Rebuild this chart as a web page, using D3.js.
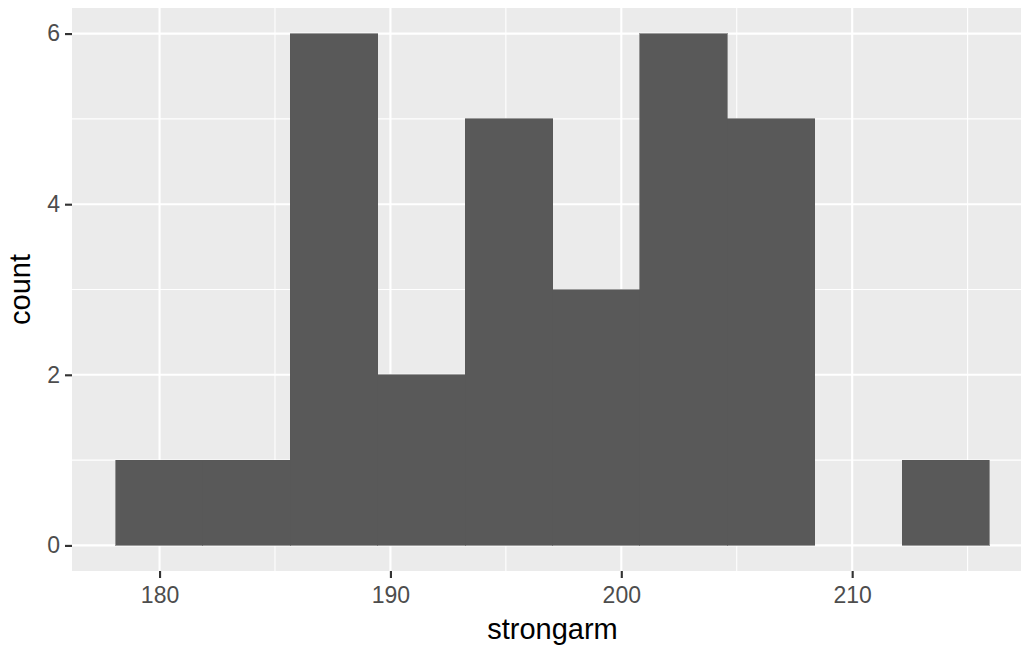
<!DOCTYPE html>
<html>
<head>
<meta charset="utf-8">
<script src="https://cdn.jsdelivr.net/npm/d3@7"></script>
<style>
  html, body { margin: 0; padding: 0; background: #fff; }
  svg { display: block; }
</style>
</head>
<body>
<svg id="chart" width="1021" height="649"></svg>
<script>
// ---- data ----
const binEdges = [178.10, 181.88, 185.67, 189.45, 193.24, 197.02, 200.80, 204.59, 208.37, 212.16, 215.94];
const counts   = [1, 1, 6, 2, 5, 3, 6, 5, 0, 1];
const xMajorTicks = [180, 190, 200, 210];
const xMinorTicks = [175, 185, 195, 205, 215];
const yMajorTicks = [0, 2, 4, 6];
const yMinorTicks = [1, 3, 5];
const xTitle = "strongarm";
const yTitle = "count";

// ---- layout ----
const svg = d3.select("#chart");
const panel = { left: 72, top: 8, right: 1033, bottom: 571 };

const xMin = d3.min(binEdges), xMax = d3.max(binEdges);
const xPad = (xMax - xMin) * 0.05;
const x = d3.scaleLinear().domain([xMin - xPad, xMax + xPad]).range([panel.left, panel.right]);
const yMax = d3.max(counts);
const yPad = yMax * 0.05;
const y = d3.scaleLinear().domain([-yPad, yMax + yPad]).range([panel.bottom, panel.top]);

const font = "'Liberation Sans', Arial, Helvetica, sans-serif";

// panel background
svg.append("rect")
  .attr("x", panel.left).attr("y", panel.top)
  .attr("width", panel.right - panel.left).attr("height", panel.bottom - panel.top)
  .attr("fill", "#EBEBEB");

const grid = svg.append("g");
// minor grid
grid.selectAll(".xminor").data(xMinorTicks.filter(d => x(d) >= panel.left && x(d) <= panel.right))
  .enter().append("line")
  .attr("x1", d => x(d)).attr("x2", d => x(d))
  .attr("y1", panel.top).attr("y2", panel.bottom)
  .attr("stroke", "#fff").attr("stroke-width", 1.07);
grid.selectAll(".yminor").data(yMinorTicks)
  .enter().append("line")
  .attr("x1", panel.left).attr("x2", panel.right)
  .attr("y1", d => y(d)).attr("y2", d => y(d))
  .attr("stroke", "#fff").attr("stroke-width", 1.07);
// major grid
grid.selectAll(".xmajor").data(xMajorTicks)
  .enter().append("line")
  .attr("x1", d => x(d)).attr("x2", d => x(d))
  .attr("y1", panel.top).attr("y2", panel.bottom)
  .attr("stroke", "#fff").attr("stroke-width", 2.13);
grid.selectAll(".ymajor").data(yMajorTicks)
  .enter().append("line")
  .attr("x1", panel.left).attr("x2", panel.right)
  .attr("y1", d => y(d)).attr("y2", d => y(d))
  .attr("stroke", "#fff").attr("stroke-width", 2.13);

// bars
const bins = counts.map((c, i) => ({ x0: binEdges[i], x1: binEdges[i + 1], count: c }));
svg.append("g").attr("shape-rendering", "crispEdges")
  .selectAll("rect").data(bins.filter(b => b.count > 0))
  .enter().append("rect")
  .attr("x", d => x(d.x0))
  .attr("width", d => x(d.x1) - x(d.x0))
  .attr("y", d => y(d.count))
  .attr("height", d => y(0) - y(d.count))
  .attr("fill", "#595959")
  .attr("stroke", "#595959").attr("stroke-width", 0.6);

// x axis
const xAxis = d3.axisBottom(x).tickValues(xMajorTicks).tickSize(7).tickPadding(4).tickFormat(d3.format("d"));
const gx = svg.append("g").attr("transform", `translate(0,${panel.bottom})`).call(xAxis);
gx.select(".domain").remove();
gx.selectAll(".tick line").attr("stroke", "#333333").attr("stroke-width", 2.13);
gx.selectAll(".tick text").attr("fill", "#4D4D4D").style("font-family", font).style("font-size", "23px")
  .attr("dy", "0.9em");

// y axis
const yAxis = d3.axisLeft(y).tickValues(yMajorTicks).tickSize(7).tickPadding(5).tickFormat(d3.format("d"));
const gy = svg.append("g").attr("transform", `translate(${panel.left},0)`).call(yAxis);
gy.select(".domain").remove();
gy.selectAll(".tick line").attr("stroke", "#333333").attr("stroke-width", 2.13);
gy.selectAll(".tick text").attr("fill", "#4D4D4D").style("font-family", font).style("font-size", "23px");

// titles
svg.append("text")
  .attr("x", (panel.left + panel.right) / 2).attr("y", 639)
  .attr("text-anchor", "middle").attr("fill", "#000")
  .style("font-family", font).style("font-size", "29px")
  .text(xTitle);
svg.append("text")
  .attr("transform", `translate(30,${(panel.top + panel.bottom) / 2}) rotate(-90)`)
  .attr("text-anchor", "middle").attr("fill", "#000")
  .style("font-family", font).style("font-size", "29px")
  .text(yTitle);
</script>
</body>
</html>
